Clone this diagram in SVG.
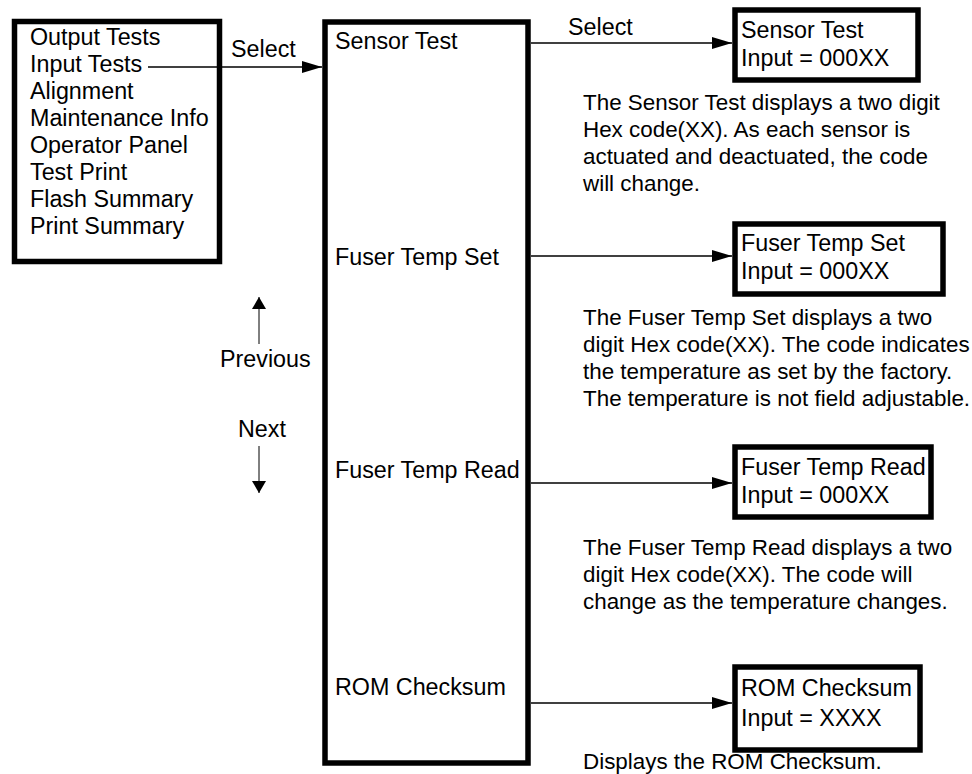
<svg xmlns="http://www.w3.org/2000/svg" width="972" height="774" viewBox="0 0 972 774">
  <style>
    text { font-family: "Liberation Sans", Arial, sans-serif; font-size: 23.3px; fill: #000; }
    text.note { font-size: 22.4px; }
    .box { fill: #fff; stroke: #000; stroke-width: 5.5; }
    .link { stroke: #000; stroke-width: 1.5; fill: none; }
    .nav { stroke: #000; stroke-width: 1; fill: none; }
  </style>
  <defs>
    <marker id="head" viewBox="0 0 20 12" refX="20" refY="6" markerWidth="20" markerHeight="12" markerUnits="userSpaceOnUse" orient="auto">
      <path d="M0,0 L20,6 L0,12 Z" fill="#000"/>
    </marker>
    <marker id="headSmall" viewBox="0 0 12 14" refX="12" refY="7" markerWidth="12" markerHeight="14" markerUnits="userSpaceOnUse" orient="auto">
      <path d="M0,0 L12,7 L0,14 Z" fill="#000"/>
    </marker>
  </defs>
  <rect width="972" height="774" fill="#fff"/>

  <!-- main menu -->
  <g id="menu">
    <rect class="box" x="14.5" y="21.5" width="205" height="240"/>
    <text x="30" y="45">Output Tests</text>
    <text x="30" y="72">Input Tests</text>
    <text x="30" y="99">Alignment</text>
    <text x="30" y="126">Maintenance Info</text>
    <text x="30" y="153">Operator Panel</text>
    <text x="30" y="180">Test Print</text>
    <text x="30" y="207">Flash Summary</text>
    <text x="30" y="234">Print Summary</text>
  </g>

  <!-- input tests submenu -->
  <g id="inputTests">
    <rect class="box" x="325" y="22" width="203" height="741"/>
    <text x="335" y="49">Sensor Test</text>
    <text x="335" y="265">Fuser Temp Set</text>
    <text x="335" y="478">Fuser Temp Read</text>
    <text x="335" y="695">ROM Checksum</text>
  </g>

  <!-- navigation hints -->
  <g id="navigation">
    <text x="220" y="367">Previous</text>
    <text x="238" y="437">Next</text>
  </g>

  <!-- result displays -->
  <g id="sensorTest">
    <rect class="box" x="735" y="10" width="183" height="70"/>
    <text x="741" y="38">Sensor Test</text>
    <text x="741" y="66">Input = 000XX</text>
    <text class="note" x="583" y="110">The Sensor Test displays a two digit</text>
    <text class="note" x="583" y="137">Hex code(XX). As each sensor is</text>
    <text class="note" x="583" y="164">actuated and deactuated, the code</text>
    <text class="note" x="583" y="191">will change.</text>
  </g>

  <g id="fuserTempSet">
    <rect class="box" x="735" y="224" width="208" height="70"/>
    <text x="741" y="251">Fuser Temp Set</text>
    <text x="741" y="279">Input = 000XX</text>
    <text class="note" x="583" y="325">The Fuser Temp Set displays a two</text>
    <text class="note" x="583" y="352">digit Hex code(XX). The code indicates</text>
    <text class="note" x="583" y="379">the temperature as set by the factory.</text>
    <text class="note" x="583" y="406">The temperature is not field adjustable.</text>
  </g>

  <g id="fuserTempRead">
    <rect class="box" x="735" y="447" width="196" height="70"/>
    <text x="741" y="475">Fuser Temp Read</text>
    <text x="741" y="503">Input = 000XX</text>
    <text class="note" x="583" y="555">The Fuser Temp Read displays a two</text>
    <text class="note" x="583" y="582">digit Hex code(XX). The code will</text>
    <text class="note" x="583" y="609">change as the temperature changes.</text>
  </g>

  <g id="romChecksum">
    <rect class="box" x="735" y="667" width="185" height="83"/>
    <text x="741" y="696">ROM Checksum</text>
    <text x="741" y="726">Input = XXXX</text>
    <text class="note" x="583" y="769">Displays the ROM Checksum.</text>
  </g>

  <!-- connectors -->
  <g id="connectors">
    <line class="link" x1="148" y1="67" x2="322" y2="67" marker-end="url(#head)"/>
    <text x="231" y="57">Select</text>
    <line class="link" x1="531" y1="43" x2="732" y2="43" marker-end="url(#head)"/>
    <text x="568" y="35">Select</text>
    <line class="link" x1="531" y1="256" x2="732" y2="256" marker-end="url(#head)"/>
    <line class="link" x1="531" y1="483" x2="732" y2="483" marker-end="url(#head)"/>
    <line class="link" x1="531" y1="703" x2="732" y2="703" marker-end="url(#head)"/>
    <line class="nav" x1="259" y1="344" x2="259" y2="297" marker-end="url(#headSmall)"/>
    <line class="nav" x1="259" y1="446" x2="259" y2="493" marker-end="url(#headSmall)"/>
  </g>
</svg>
